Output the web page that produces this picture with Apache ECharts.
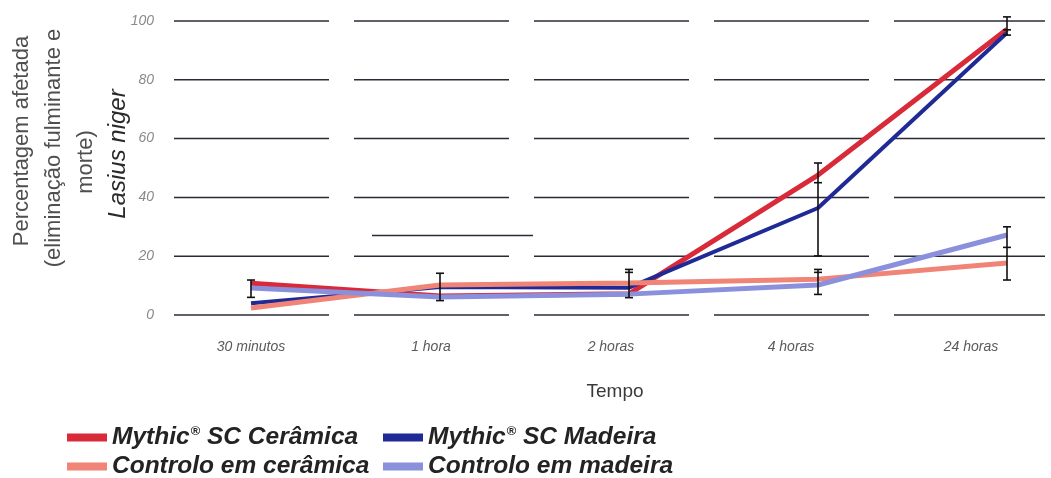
<!DOCTYPE html>
<html>
<head>
<meta charset="utf-8">
<script src="https://cdn.jsdelivr.net/npm/echarts@6/dist/echarts.min.js"></script>
<style>
html,body{margin:0;padding:0;background:#ffffff;}
#chart{width:1051px;height:478px;}
</style>
</head>
<body>
<div id="chart"></div>
<script>
// ---- data ----
const categories = ['30 minutos', '1 hora', '2 horas', '4 horas', '24 horas'];
const yTicks = [0, 20, 40, 60, 80, 100];
const seriesNames = ['Mythic® SC Cerâmica', 'Mythic® SC Madeira', 'Controlo em cerâmica', 'Controlo em madeira'];
const mythicCeramica = [10.8, 6.5, 7.2, 47.6, 97.2];
const mythicMadeira = [4.0, 9.5, 9.3, 36.4, 96.0];
const controloCeramica = [2.4, 10.2, 10.9, 12.2, 17.7];
const controloMadeira = [9.2, 6.1, 7.1, 10.2, 27.2];
// [categoryIndex, low, high]
const errorBars = [[0, 6.0, 11.9], [1, 4.9, 14.2], [2, 5.9, 15.5], [3, 20.1, 51.7], [3, 7.0, 15.5], [4, 95.2, 101.4], [4, 11.9, 30.0]];
// [categoryIndex, value] extra caps on error bars
const extraCaps = [[2, 14.5], [3, 45.0], [3, 14.5], [4, 97.0], [4, 23.0]];
// stray gridline segment in the original
const strayGridLine = [[1, 27]];

// ---- styles ----
const colors = ['#d92a3a', '#1f2a96', '#f08476', '#8a90dc'];
const widths = [5, 4, 5, 5];
const gridColor = '#2b2b38';

const gridlineData = [];
categories.forEach((c, i) => yTicks.forEach(v => gridlineData.push([i, v])));

const chart = echarts.init(document.getElementById('chart'), null, {renderer: 'canvas'});

function gridSeg(params, api) {
  const p = api.coord([api.value(0), api.value(1)]);
  const band = api.size([1, 0])[0];
  return {
    type: 'line',
    shape: {x1: p[0] - band / 2 + 13, y1: p[1], x2: Math.min(p[0] + band / 2 - 12, 1045), y2: p[1]},
    style: {stroke: gridColor, lineWidth: 1.5}
  };
}
function straySeg(params, api) {
  const p = api.coord([api.value(0), api.value(1)]);
  return {
    type: 'line',
    shape: {x1: p[0] - 59, y1: p[1], x2: p[0] + 102, y2: p[1]},
    style: {stroke: gridColor, lineWidth: 1.5}
  };
}
function errSeg(params, api) {
  const lo = api.coord([api.value(0), api.value(1)]);
  const hi = api.coord([api.value(0), api.value(2)]);
  const x = lo[0], c = 4;
  const st = {stroke: '#111', lineWidth: 1.6};
  return {
    type: 'group',
    children: [
      {type: 'line', shape: {x1: x, y1: lo[1], x2: x, y2: hi[1]}, style: st},
      {type: 'line', shape: {x1: x - c, y1: lo[1], x2: x + c, y2: lo[1]}, style: st},
      {type: 'line', shape: {x1: x - c, y1: hi[1], x2: x + c, y2: hi[1]}, style: st}
    ]
  };
}
function capSeg(params, api) {
  const p = api.coord([api.value(0), api.value(1)]);
  return {
    type: 'line',
    shape: {x1: p[0] - 4, y1: p[1], x2: p[0] + 4, y2: p[1]},
    style: {stroke: '#111', lineWidth: 1.6}
  };
}

const legendText = {
  fontFamily: 'Liberation Sans, Arial, sans-serif',
  fontSize: 24.5,
  fontWeight: 'bold',
  fontStyle: 'italic',
  color: '#232323',
  rich: {
    sup: {fontFamily: 'Liberation Sans, Arial, sans-serif', fontSize: 13, fontWeight: 'bold', fontStyle: 'italic', color: '#232323', verticalAlign: 'top', padding: [0, 0, 0, 1]}
  }
};
const legendPos = [[67, 425], [383, 425], [67, 454], [383, 454]];
const legends = seriesNames.map((n, i) => ({
  data: [n],
  left: legendPos[i][0],
  top: legendPos[i][1],
  icon: 'rect',
  itemWidth: 40,
  itemHeight: 8,
  selectedMode: false,
  padding: 0,
  textStyle: legendText,
  formatter: name => name.replace('® ', '{sup|®} ')
}));

const lineData = [mythicCeramica, mythicMadeira, controloCeramica, controloMadeira];
const lineSeries = seriesNames.map((n, i) => ({
  name: n,
  type: 'line',
  xAxisIndex: 1,
  yAxisIndex: 1,
  data: lineData[i],
  symbol: 'none',
  color: colors[i],
  lineStyle: {width: widths[i], color: colors[i]},
  itemStyle: {color: colors[i]},
  z: 3 + i
}));

const titleFont = 'Liberation Sans, Arial, sans-serif';

chart.setOption({
  animation: false,
  backgroundColor: '#ffffff',
  legend: legends,
  grid: [
    {left: 161, width: 900, top: 21, height: 294, containLabel: false, outerBoundsMode: 'none'},
    {left: 156.5, width: 945, top: 21, height: 294, containLabel: false, outerBoundsMode: 'none'}
  ],
  xAxis: [
    {
      type: 'category', gridIndex: 0, data: categories, boundaryGap: true,
      axisLine: {show: false}, axisTick: {show: false}, splitLine: {show: false},
      axisLabel: {fontFamily: titleFont, fontStyle: 'italic', fontSize: 14, color: '#5a5a5a', margin: 25, interval: 0}
    },
    {
      type: 'category', gridIndex: 1, data: categories, boundaryGap: true, show: false
    }
  ],
  yAxis: [
    {
      type: 'value', gridIndex: 0, min: 0, max: 100, interval: 20,
      axisLine: {show: false}, axisTick: {show: false}, splitLine: {show: false},
      axisLabel: {fontFamily: titleFont, fontStyle: 'italic', fontSize: 14, color: '#8a8a8a', margin: 7}
    },
    {
      type: 'value', gridIndex: 1, min: 0, max: 100, interval: 20, show: false,
      splitLine: {show: false}
    }
  ],
  graphic: [
    {type: 'text', x: 22, y: 141, rotation: Math.PI / 2, style: {text: 'Percentagem afetada', font: '22px ' + titleFont, fill: '#4f4f4f', align: 'center', verticalAlign: 'middle'}},
    {type: 'text', x: 54, y: 148, rotation: Math.PI / 2, style: {text: '(eliminação fulminante e', font: '22px ' + titleFont, fill: '#4f4f4f', align: 'center', verticalAlign: 'middle'}},
    {type: 'text', x: 86, y: 162, rotation: Math.PI / 2, style: {text: 'morte)', font: '22px ' + titleFont, fill: '#4f4f4f', align: 'center', verticalAlign: 'middle'}},
    {type: 'text', x: 118, y: 154, rotation: Math.PI / 2, style: {text: 'Lasius niger', font: 'italic 24px ' + titleFont, fill: '#2a2a2a', align: 'center', verticalAlign: 'middle'}},
    {type: 'text', x: 615, y: 392, style: {text: 'Tempo', font: '19px ' + titleFont, fill: '#3a3a3a', align: 'center', verticalAlign: 'middle'}}
  ],
  series: [
    {type: 'custom', xAxisIndex: 0, yAxisIndex: 0, data: gridlineData, renderItem: gridSeg, silent: true, z: 1},
    {type: 'custom', xAxisIndex: 0, yAxisIndex: 0, data: strayGridLine, renderItem: straySeg, silent: true, z: 1},
    ...lineSeries,
    {type: 'custom', xAxisIndex: 1, yAxisIndex: 1, data: errorBars, renderItem: errSeg, silent: true, z: 10},
    {type: 'custom', xAxisIndex: 1, yAxisIndex: 1, data: extraCaps, renderItem: capSeg, silent: true, z: 10}
  ]
});
</script>
</body>
</html>
